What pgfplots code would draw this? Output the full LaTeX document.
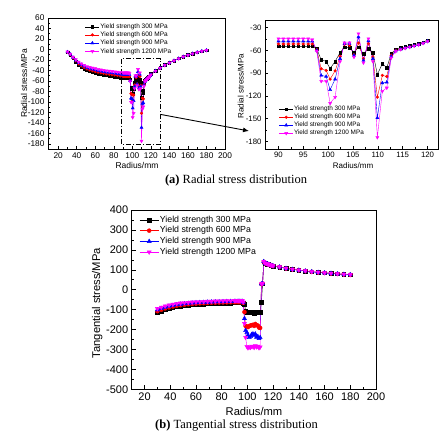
\documentclass[border=0pt]{standalone}
\usepackage{fontspec}
\setmainfont{Liberation Sans}
\newfontfamily\capfont{Liberation Serif}
\usepackage{pgfplots}
\pgfplotsset{compat=1.18}
\usepackage{pgfplotstable}
\usetikzlibrary{arrows.meta}

% r (mm), radial stress sr (MPa), tangential stress st (MPa)
\pgfplotstableread{
r sr st
30 -5 -115
33 -10 -107
36 -17 -100
39 -23 -94
42 -29 -89
45 -33 -85
48 -36.5 -82
51 -39.5 -79.5
54 -41.5 -77.5
57 -43 -75.5
60 -44.5 -74
63 -46 -72.5
66 -47.3 -71.5
69 -48.5 -70.5
72 -49.5 -69.5
75 -50.3 -68.5
78 -51 -68
81 -51.8 -67.5
84 -52.8 -67
87 -53.8 -66.5
90 -54.7 -66
91 -54.7 -66
92 -54.7 -66
93 -54.7 -66
94 -54.7 -66
95 -54.7 -66
96 -54.7 -66
96.8 -54.7 -68
97.7 -58 -72
98.6 -72.3 -105
99.6 -74.6 -112
100.4 -84 -115
101.4 -74.6 -113
102.4 -63 -116
103.3 -55.6 -112
104.3 -56.5 -115
105.2 -63 -118
106.1 -55.6 -112
107.1 -64.4 -115
108.1 -57.8 -110
109.0 -63 -116
109.9 -91.8 -112
110.9 -77.6 -62
111.8 -83 30
112.7 -64.4 140
113.6 -58.7 133
114.6 -56.9 131
115.5 -55.5 129
116.4 -54 127
117.3 -52.5 125
118.2 -51 123
119.1 -49 121
120 -46.5 119
125 -40.5 114
130 -35 107
135 -29.5 102
140 -25 98
145 -21 94
150 -17 90
155 -13.5 87
160 -10.5 84.5
165 -7.8 82
170 -5.2 79.5
175 -3.2 77
180 -1.5 75
}\ysA

\pgfplotstableread{
r sr st
30 -5 -108
33 -9.6 -100.5
36 -16.2 -94
39 -21.8 -89
42 -27.4 -84.5
45 -31.1 -80.5
48 -34.4 -77.5
51 -37.2 -75
54 -39.1 -73
57 -40.5 -71.5
60 -41.9 -70
63 -43.3 -68.5
66 -44.5 -67.5
69 -45.6 -66.5
72 -46.6 -65.5
75 -47.3 -65
78 -48 -64.5
81 -48.8 -64
84 -49.7 -63.5
87 -50.6 -63
90 -51.6 -62.5
91 -51.6 -62.5
92 -51.6 -62.5
93 -51.6 -62.5
94 -51.6 -62.5
95 -51.6 -62.5
96 -51.6 -62.5
96.8 -51.6 -66
97.7 -59 -112
98.6 -84.3 -182
99.6 -86.5 -185
100.4 -98 -188
101.4 -87 -182
102.4 -68 -180
103.3 -52 -178
104.3 -53.4 -176
105.2 -65.7 -182
106.1 -50.3 -172
107.1 -71 -178
108.1 -51.2 -180
109.0 -68.8 -190
109.9 -121.7 -192
110.9 -93 28
111.8 -94.4 31
112.7 -66.6 140
113.6 -60 133
114.6 -58.5 131
115.5 -57 129
116.4 -55.5 127
117.3 -54 125
118.2 -52.5 123
119.1 -50.5 121
120 -48 119
125 -41 114
130 -35.5 107
135 -30 102
140 -25.4 98
145 -21.3 94
150 -17.3 90
155 -13.8 87
160 -10.7 84.5
165 -8 82
170 -5.4 79.5
175 -3.3 77
180 -1.6 75
}\ysB

\pgfplotstableread{
r sr st
30 -4.8 -101
33 -9.2 -94
36 -15.3 -88
39 -20.5 -83
42 -25.6 -79
45 -29.1 -75.5
48 -32.1 -72.5
51 -34.7 -70.5
54 -36.5 -68.5
57 -37.8 -67
60 -39.1 -65.5
63 -40.4 -64.5
66 -41.6 -63.5
69 -42.6 -62.5
72 -43.5 -61.5
75 -44.2 -61
78 -44.8 -60.5
81 -45.5 -60
84 -46.4 -59.5
87 -47.2 -59
90 -48 -58.5
91 -48 -58.5
92 -48 -58.5
93 -48 -58.5
94 -48 -58.5
95 -48 -58.5
96 -48 -58.5
96.8 -48 -64
97.7 -60 -145
98.6 -93 -205
99.6 -94.4 -215
100.4 -112 -228
101.4 -98 -240
102.4 -71 -235
103.3 -51 -225
104.3 -51 -222
105.2 -66.6 -230
106.1 -42.4 -222
107.1 -73.2 -238
108.1 -47.6 -235
109.0 -71 -245
109.9 -149 -240
110.9 -103 29
111.8 -102 31
112.7 -68 141
113.6 -61 133
114.6 -58.5 131
115.5 -57 129
116.4 -55.5 127
117.3 -54 125
118.2 -52.5 123
119.1 -50.5 121
120 -48 119
125 -41 114
130 -35.5 107
135 -30 102
140 -25.4 98
145 -21.3 94
150 -17.3 90
155 -13.8 87
160 -10.7 84.5
165 -8 82
170 -5.4 79.5
175 -3.3 77
180 -1.6 75
}\ysC

\pgfplotstableread{
r sr st
30 -4.6 -95
33 -8.8 -88
36 -14.5 -82
39 -19.3 -77.5
42 -24 -73.5
45 -27.2 -70
48 -30 -67.5
51 -32.4 -65.5
54 -34 -64
57 -35.2 -62.5
60 -36.5 -61.5
63 -37.7 -60.5
66 -38.8 -59.5
69 -39.7 -58.5
72 -40.5 -58
75 -41.2 -57.5
78 -41.8 -57
81 -42.4 -56.5
84 -43.2 -56
87 -44 -55.5
90 -44.6 -55
91 -44.6 -55
92 -44.6 -55
93 -44.6 -55
94 -44.6 -55
95 -44.6 -55
96 -44.6 -55
96.8 -45.9 -62
97.7 -61 -170
98.6 -100.6 -240
99.6 -100.6 -285
100.4 -129.7 -292
101.4 -121.7 -288
102.4 -74.6 -290
103.3 -50 -284
104.3 -50 -286
105.2 -68.8 -290
106.1 -38 -282
107.1 -76.3 -287
108.1 -44.6 -284
109.0 -74.6 -292
109.9 -174.7 -288
110.9 -113.8 30
111.8 -109.4 32
112.7 -69.7 142
113.6 -61.3 134
114.6 -58.8 131.5
115.5 -57.2 129.5
116.4 -55.7 127.5
117.3 -54.2 125.5
118.2 -52.7 123.5
119.1 -50.7 121.5
120 -48.2 119.5
125 -41.2 114.5
130 -35.7 107.5
135 -30.2 102.5
140 -25.6 98.5
145 -21.5 94.5
150 -17.5 90.5
155 -14 87.5
160 -10.9 85
165 -8.2 82.5
170 -5.6 80
175 -3.5 77.5
180 -1.7 75.5
}\ysD

\definecolor{origmag}{RGB}{255,0,255}

\pgfplotsset{
  stressaxis/.style={
    scale only axis,
    anchor=south west,
    axis line style={line width=0.6pt},
    tick align=inside,
    xtick pos=left, ytick pos=left,
    minor tick num=1,
    major tick length=3pt, minor tick length=1.6pt,
    every tick/.append style={line width=0.5pt, black},
    /pgf/number format/assume math mode=true,
    legend cell align=left,
  },
  sA/.style={black, line width=0.4pt, mark=square*, mark size=1.3pt, mark options={solid}},
  sB/.style={red, line width=0.4pt, mark=*, mark size=1.4pt, mark options={solid}},
  sC/.style={blue, line width=0.4pt, mark=triangle*, mark size=1.8pt, mark options={solid}},
  sD/.style={origmag, line width=0.4pt, mark=triangle*, mark size=1.8pt, mark options={solid, rotate=180}},
}

\begin{document}
\begin{tikzpicture}
\path[use as bounding box] (0pt,0pt) rectangle (439pt,431pt);

% (a) radial stress, full radius range
\begin{axis}[stressaxis,
  at={(48pt,282pt)}, width=177pt, height=131pt,
  xmin=9, xmax=200, ymin=-190, ymax=60,
  xtick={20,40,...,200}, ytick={-180,-160,...,60},
  tick label style={font=\fontsize{8.3}{9}\selectfont},
  xlabel={Radius/mm}, ylabel={Radial stress/MPa},
  label style={font=\fontsize{8.5}{10}\selectfont},
  xlabel style={at={(axis description cs:0.503,-0.1275)}, anchor=center},
  ylabel style={at={(axis description cs:-0.1356,0.5)}, anchor=center},
  legend image code/.code={\draw[mark repeat=2,mark phase=2,#1] plot coordinates {(0pt,0pt) (7pt,0pt) (14pt,0pt)};},
  legend style={at={(axis description cs:0.209,0.964)}, anchor=north west,
    draw=none, fill=none, inner sep=0pt, row sep=0.6pt,
    font=\fontsize{6.5}{7.5}\selectfont,
    nodes={inner sep=0.8pt, text height=4.7pt, text depth=1.3pt}},
]
\addplot[sA] table[x=r, y=sr] {\ysA};
\addplot[sB] table[x=r, y=sr] {\ysB};
\addplot[sC] table[x=r, y=sr] {\ysC};
\addplot[sD] table[x=r, y=sr] {\ysD};
\legend{Yield strength 300 MPa, Yield strength 600 MPa, Yield strength 900 MPa, Yield strength 1200 MPa}
\draw[line width=1.1pt, dash pattern=on 5pt off 2pt on 1pt off 2pt]
  (axis cs:88,-18) rectangle (axis cs:130.5,-181);
\coordinate (zoomsrc) at (axis cs:130.5,-124);
\end{axis}

% (a) radial stress, detail of the ring region
\begin{axis}[stressaxis,
  at={(265pt,282pt)}, width=173pt, height=129pt,
  xmin=87.3, xmax=122.1, ymin=-190, ymax=-20,
  xtick={90,95,...,120}, ytick={-180,-150,...,-30},
  tick label style={font=\fontsize{7.8}{9}\selectfont},
  xlabel={Radius/mm}, ylabel={Radial stress/MPa},
  label style={font=\fontsize{8}{9.5}\selectfont},
  xlabel style={at={(axis description cs:0.509,-0.129)}, anchor=center},
  ylabel style={at={(axis description cs:-0.140,0.488)}, anchor=center},
  legend image code/.code={\draw[mark repeat=2,mark phase=2,#1] plot coordinates {(0pt,0pt) (6.8pt,0pt) (13.6pt,0pt)};},
  legend style={at={(axis description cs:0.081,0.339)}, anchor=north west,
    draw=none, fill=none, inner sep=0pt, row sep=0.4pt,
    font=\fontsize{6.4}{7.5}\selectfont,
    nodes={inner sep=0.8pt, text height=4.7pt, text depth=1.3pt}},
]
\addplot[sA, restrict x to domain=89.5:121] table[x=r, y=sr] {\ysA};
\addplot[sB, restrict x to domain=89.5:121] table[x=r, y=sr] {\ysB};
\addplot[sC, restrict x to domain=89.5:121] table[x=r, y=sr] {\ysC};
\addplot[sD, restrict x to domain=89.5:121] table[x=r, y=sr] {\ysD};
\legend{Yield strength 300 MPa, Yield strength 600 MPa, Yield strength 900 MPa, Yield strength 1200 MPa}
\end{axis}

\draw[line width=0.9pt, -{Latex[length=6pt,width=5pt]}] (zoomsrc) -- (249pt,300pt);

\node[font=\capfont\fontsize{12.5}{14}\selectfont] at (236pt,251pt)
  {\textbf{(a)} Radial stress distribution};

% (b) tangential stress
\begin{axis}[stressaxis,
  at={(131.7pt,41.7pt)}, width=244.3pt, height=179.3pt,
  xmin=10, xmax=200, ymin=-500, ymax=400,
  xtick={20,40,...,200}, ytick={-500,-400,...,400},
  major tick length=4pt, minor tick length=2pt,
  tick label style={font=\fontsize{11}{12}\selectfont},
  xlabel={Radius/mm}, ylabel={Tangential stress/MPa},
  label style={font=\fontsize{11.2}{13}\selectfont},
  xlabel style={at={(axis description cs:0.5006,-0.125)}, anchor=center},
  ylabel style={at={(axis description cs:-0.1408,0.481)}, anchor=center},
  sA/.append style={mark size=1.8pt},
  sB/.append style={mark size=2pt},
  sC/.append style={mark size=2.4pt},
  sD/.append style={mark size=2.4pt},
  legend image code/.code={\draw[mark repeat=2,mark phase=2,#1] plot coordinates {(0pt,0pt) (9.5pt,0pt) (19pt,0pt)};},
  legend style={at={(axis description cs:0.031,0.974)}, anchor=north west,
    draw=none, fill=none, inner sep=0pt, row sep=0.5pt,
    font=\fontsize{8.8}{10}\selectfont,
    nodes={inner sep=1pt, text height=6.4pt, text depth=1.8pt}},
]
\addplot[sA] table[x=r, y=st] {\ysA};
\addplot[sB] table[x=r, y=st] {\ysB};
\addplot[sC] table[x=r, y=st] {\ysC};
\addplot[sD] table[x=r, y=st] {\ysD};
\legend{Yield strength 300 MPa, Yield strength 600 MPa, Yield strength 900 MPa, Yield strength 1200 MPa}
\end{axis}

\node[font=\capfont\fontsize{12.5}{14}\selectfont, anchor=base] at (236.5pt,2.5pt)
  {\textbf{(b)} Tangential stress distribution};
\end{tikzpicture}
\end{document}
